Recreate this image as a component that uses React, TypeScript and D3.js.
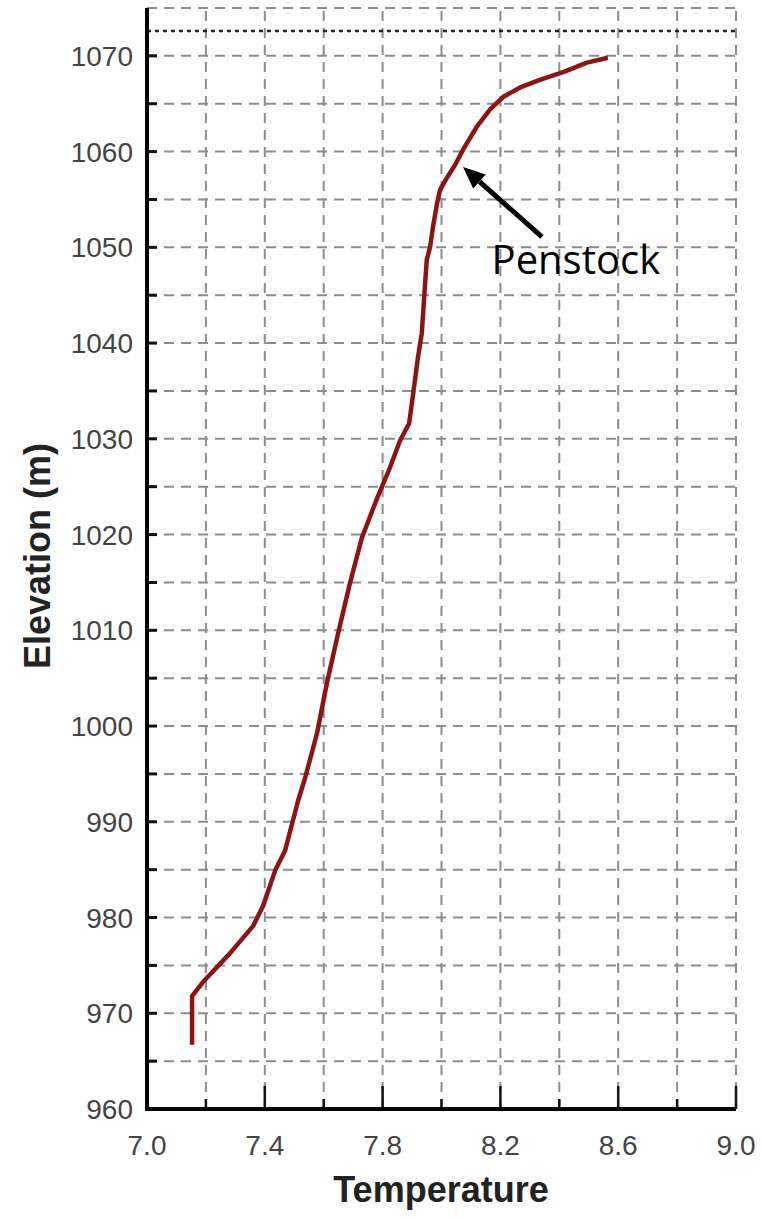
import React from "react";
import * as d3 from "d3";

// Temperature profile (°C) against elevation (m), read bottom to top
const temperature = [
  7.153, 7.153, 7.194, 7.28, 7.36, 7.394, 7.435, 7.469, 7.513, 7.537, 7.577,
  7.611, 7.649, 7.689, 7.73, 7.784, 7.825, 7.859, 7.89, 7.905, 7.92, 7.933,
  7.942, 7.95, 7.961, 7.971, 7.985, 7.995, 8.019, 8.046, 8.073, 8.12, 8.165,
  8.209, 8.267, 8.334, 8.413, 8.494, 8.565,
];
const elevation = [
  966.7, 971.8, 973.4, 976.2, 979.1, 981.2, 984.9, 987.0, 992.2, 994.6, 999.2,
  1004.5, 1009.7, 1014.9, 1019.7, 1024.0, 1027.0, 1029.8, 1031.6, 1035.0,
  1038.5, 1041.0, 1045.2, 1048.7, 1050.0, 1052.1, 1054.6, 1056.0, 1057.3,
  1058.6, 1060.2, 1062.6, 1064.4, 1065.7, 1066.7, 1067.5, 1068.3, 1069.3,
  1069.8,
];

const xTickLabels = [7.0, 7.4, 7.8, 8.2, 8.6, 9.0];
const yTickLabels = [960, 970, 980, 990, 1000, 1010, 1020, 1030, 1040, 1050, 1060, 1070];
const xGrid = [7.2, 7.4, 7.6, 7.8, 8.0, 8.2, 8.4, 8.6, 8.8, 9.0];
const yGrid = [965, 970, 975, 980, 985, 990, 995, 1000, 1005, 1010, 1015, 1020, 1025, 1030, 1035, 1040, 1045, 1050, 1055, 1060, 1065, 1070, 1075];
const waterLevel = 1072.6;

// Annotation arrow: tail and tip in data units
const arrowTail = { t: 8.341, e: 1051.1 };
const arrowTip = { t: 8.073, e: 1058.4 };
const annotationText = "Penstock";
const annotationAt = { t: 8.17, e: 1047.2 };

const W = 763;
const H = 1218;

export default function App() {
  const x = d3.scaleLinear().domain([7, 9]).range([147, 736]);
  const y = d3.scaleLinear().domain([960, 1075]).range([1109, 8]);
  const [x0, x1] = x.range();
  const [y0, y1] = y.range();

  const pts = temperature.map((t, i) => [t, elevation[i]] as [number, number]);
  const line = d3
    .line<[number, number]>()
    .x((d) => x(d[0]))
    .y((d) => y(d[1]));

  // arrow geometry
  const tx = x(arrowTail.t), ty = y(arrowTail.e);
  const hx = x(arrowTip.t), hy = y(arrowTip.e);
  const ang = Math.atan2(hy - ty, hx - tx);
  const headLen = 22, headHalf = 9.5;
  const bx = hx - headLen * Math.cos(ang), by = hy - headLen * Math.sin(ang);
  const px = -Math.sin(ang), py = Math.cos(ang);
  const head = [
    [hx, hy],
    [bx + headHalf * px, by + headHalf * py],
    [bx - headHalf * px, by - headHalf * py],
  ]
    .map((p) => p.join(","))
    .join(" ");

  const gridStyle = { stroke: "#8c8c8c", strokeWidth: 2, strokeDasharray: "10,7" };
  const tickFont = "'Liberation Sans', Arial, sans-serif";

  return (
    <svg
      width={W}
      height={H}
      style={{ position: "absolute", left: 0, top: 0, background: "#fff" }}
    >
      <rect x={0} y={0} width={W} height={H} fill="#fff" />

      {/* grid */}
      {yGrid.map((v) => (
        <line key={"gy" + v} x1={x0} x2={x1} y1={y(v)} y2={y(v)} {...gridStyle} />
      ))}
      {xGrid.map((v) => (
        <line key={"gx" + v} x1={x(v)} x2={x(v)} y1={y0} y2={y1} {...gridStyle} />
      ))}

      {/* water level */}
      <line
        x1={x0}
        x2={x1}
        y1={y(waterLevel)}
        y2={y(waterLevel)}
        stroke="#222"
        strokeWidth={2.5}
        strokeDasharray="4,4"
      />

      {/* ticks */}
      {yGrid.slice(0, -1).concat([960]).map((v) => (
        <line key={"ty" + v} x1={x0} x2={x0 + 10} y1={y(v)} y2={y(v)} stroke="#111" strokeWidth={3} />
      ))}
      {xGrid.map((v, i) => (
        <line
          key={"tx" + v}
          x1={x(v)}
          x2={x(v)}
          y1={y0}
          y2={y0 - (i % 2 === 1 ? 23 : 10)}
          stroke="#111"
          strokeWidth={2.5}
        />
      ))}

      {/* axes */}
      <line x1={x0} x2={x0} y1={y1} y2={y0 + 2} stroke="#000" strokeWidth={4} />
      <line x1={x0 - 2} x2={x1} y1={y0} y2={y0} stroke="#000" strokeWidth={4} />

      {/* tick labels */}
      {yTickLabels.map((v) => (
        <text
          key={"ly" + v}
          x={133}
          y={y(v)}
          dy="0.36em"
          textAnchor="end"
          fontFamily={tickFont}
          fontSize={28}
          fill="#444"
        >
          {v}
        </text>
      ))}
      {xTickLabels.map((v) => (
        <text
          key={"lx" + v}
          x={x(v)}
          y={1155}
          textAnchor="middle"
          fontFamily={tickFont}
          fontSize={28}
          fill="#444"
        >
          {d3.format(".1f")(v)}
        </text>
      ))}

      {/* axis titles */}
      <text
        x={441}
        y={1202}
        textAnchor="middle"
        fontFamily={tickFont}
        fontWeight="bold"
        fontSize={36}
        fill="#222"
      >
        Temperature
      </text>
      <text
        transform="translate(50,556) rotate(-90)"
        textAnchor="middle"
        fontFamily={tickFont}
        fontWeight="bold"
        fontSize={36}
        fill="#222"
      >
        Elevation (m)
      </text>

      {/* temperature profile */}
      <path
        d={line(pts) ?? ""}
        fill="none"
        stroke="#8b1414"
        strokeWidth={4.5}
        strokeLinejoin="round"
        strokeLinecap="butt"
      />

      {/* annotation */}
      <line x1={tx} y1={ty} x2={bx} y2={by} stroke="#000" strokeWidth={5} />
      <polygon points={head} fill="#000" />
      <text
        x={x(annotationAt.t)}
        y={y(annotationAt.e)}
        fontFamily="'Open Sans', sans-serif"
        fontSize={40}
        fill="#000"
      >
        {annotationText}
      </text>
    </svg>
  );
}
